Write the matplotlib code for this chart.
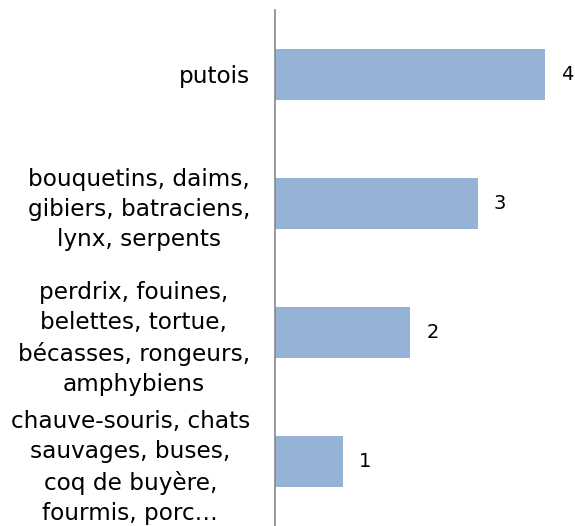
import matplotlib.pyplot as plt
import numpy as np

categories = [
    "chauve-souris, chats\nsauvages, buses,\ncoq de buyère,\nfourmis, porc…",
    "perdrix, fouines,\nbelettes, tortue,\nbécasses, rongeurs,\namphybiens",
    "bouquetins, daims,\ngibiers, batraciens,\nlynx, serpents",
    "putois",
]
values = [1, 2, 3, 4]

fig = plt.figure(figsize=(5.75, 5.26), dpi=100)
ax = fig.add_axes([275 / 575, 0, 300 / 575, 516 / 526])

pos = np.arange(len(values))
ax.barh(pos, values, height=0.39, color="#95b3d7")
for p, v in zip(pos, values):
    ax.text(v + 0.24, p, str(v), va="center", ha="left", fontsize=14)

ax.set_xlim(0, 300 / 67.5)
ax.set_ylim(-0.5, 3.5)
ax.set_yticks(pos)
ax.set_yticklabels(categories, fontsize=16.7, multialignment="center", linespacing=1.4)
ax.tick_params(axis="y", length=0, pad=18)
ax.set_xticks([])
for s in ["top", "right", "bottom"]:
    ax.spines[s].set_visible(False)
ax.spines["left"].set_color("#888888")
ax.spines["left"].set_linewidth(1.2)

fig.savefig("out.png", dpi=100)
